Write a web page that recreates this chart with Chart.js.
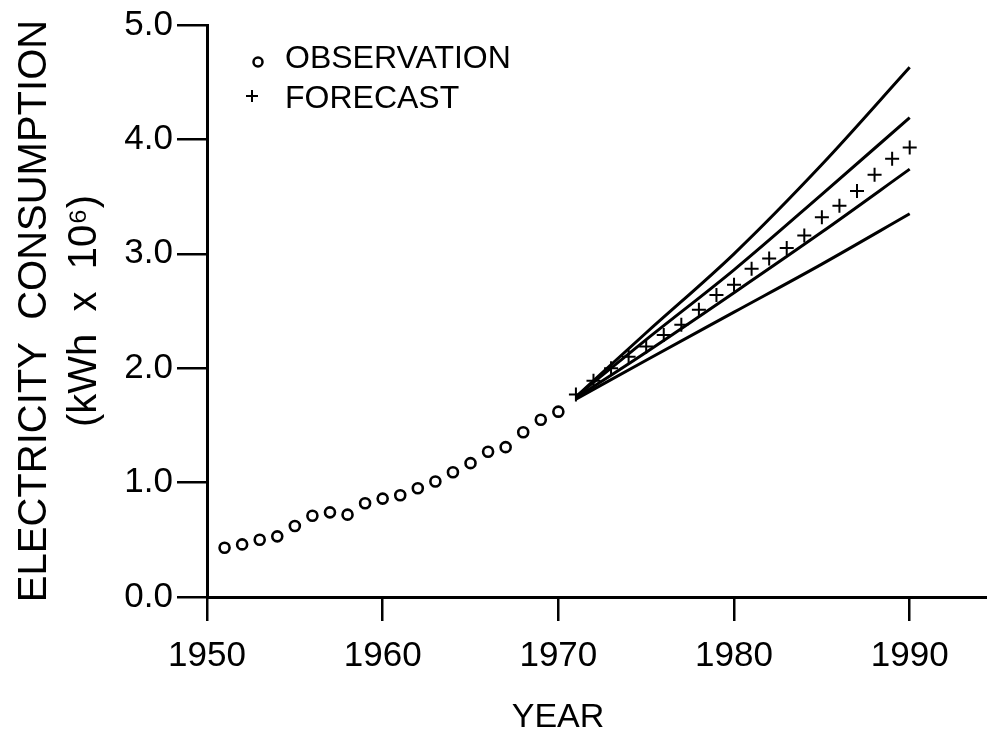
<!DOCTYPE html>
<html>
<head>
<meta charset="utf-8">
<script src="https://cdn.jsdelivr.net/npm/chart.js@4.4.1/dist/chart.umd.min.js"></script>
<style>
  html, body { margin:0; padding:0; background:#fff; }
</style>
</head>
<body>
<canvas id="myChart" width="987" height="730"></canvas>
<script>
// OBSERVED consumption, 1951-1970 (kWh x 10^6)
const obsYears  = [1951,1952,1953,1954,1955,1956,1957,1958,1959,1960,1961,1962,1963,1964,1965,1966,1967,1968,1969,1970];
const obsValues = [0.43,0.46,0.50,0.53,0.62,0.71,0.74,0.72,0.82,0.86,0.89,0.95,1.01,1.09,1.17,1.27,1.31,1.44,1.55,1.62];

// FORECAST, 1971-1990
const fcYears  = [1971,1972,1973,1974,1975,1976,1977,1978,1979,1980,1981,1982,1983,1984,1985,1986,1987,1988,1989,1990];
const fcValues = [1.77,1.89,2.00,2.10,2.19,2.29,2.38,2.51,2.64,2.73,2.87,2.96,3.05,3.16,3.32,3.42,3.55,3.69,3.83,3.93];

// the four limit curves round the forecast
const bandYears = [1971,1975,1980,1985,1990];
const outerHigh = [1.75,2.31,3.00,3.78,4.63];
const innerHigh = [1.75,2.25,2.86,3.52,4.19];
const innerLow  = [1.74,2.14,2.66,3.19,3.74];
const outerLow  = [1.73,2.07,2.49,2.91,3.35];

const xTicks = [1950,1960,1970,1980,1990];
const yTicks = [0,1,2,3,4,5];

const FONT = "'Liberation Sans', Arial, sans-serif";

function pts(xs, ys){ return xs.map((x,i) => ({x:x, y:ys[i]})); }

function bandLine(vals){
  return {
    label: '', data: pts(bandYears, vals), showLine: true,
    borderColor: '#000', borderWidth: 3, pointRadius: 0,
    cubicInterpolationMode: 'monotone', fill: false
  };
}

// legend + x title drawn by hand, the legend sits inside the plot
const legendPlugin = {
  id: 'handLegend',
  afterDraw(chart){
    const c = chart.ctx;
    const obs = chart.data.datasets[0], fc = chart.data.datasets[1];
    c.save();
    c.strokeStyle = '#000';
    c.fillStyle = '#fff';
    c.lineWidth = 2.5;
    Chart.helpers.drawPoint(c, {pointStyle:'circle', radius:4.5, borderWidth:2.5}, 258, 62);
    c.lineWidth = 2;
    Chart.helpers.drawPoint(c, {pointStyle:'cross', radius:6, borderWidth:2}, 252, 96);
    c.fillStyle = '#000';
    c.font = '32px ' + FONT;
    c.textBaseline = 'alphabetic';
    c.textAlign = 'left';
    c.fillText(obs.label, 285, 68);
    c.fillText(fc.label, 285, 108);
    // axis title YEAR
    c.font = '34px ' + FONT;
    c.textAlign = 'center';
    const xs = chart.scales.x;
    c.fillText('YEAR', xs.left + (xs.right - xs.left) * 0.45, 727);
    c.restore();
  }
};

const ctx = document.getElementById('myChart').getContext('2d');
const myChart = new Chart(ctx, {
  type: 'scatter',
  data: {
    datasets: [
      {
        label: 'OBSERVATION', data: pts(obsYears, obsValues),
        pointStyle: 'circle', pointRadius: 5, borderWidth: 2.6,
        borderColor: '#000', backgroundColor: '#fff'
      },
      {
        label: 'FORECAST', data: pts(fcYears, fcValues),
        pointStyle: 'cross', pointRadius: 7, borderWidth: 2,
        borderColor: '#000', backgroundColor: '#000'
      },
      bandLine(outerHigh),
      bandLine(innerHigh),
      bandLine(innerLow),
      bandLine(outerLow)
    ]
  },
  options: {
    responsive: false,
    animation: false,
    layout: { autoPadding: false, padding: { top: 25, right: 0, left: 0, bottom: 0 } },
    plugins: { legend: { display: false }, tooltip: { enabled: false } },
    scales: {
      x: {
        type: 'linear', min: 1950, max: 1994.4,
        afterBuildTicks: s => { s.ticks = xTicks.map(v => ({value: v})); },
        afterFit: s => { s.height = 133; s.paddingLeft = 0; s.paddingRight = 0; },
        ticks: { color: '#000', font: { family: FONT, size: 35 }, padding: 14, maxRotation: 0,
                 callback: v => String(v) },
        grid: { drawOnChartArea: false, drawTicks: true, tickLength: 24, color: '#000', lineWidth: 2.5 },
        border: { display: true, color: '#000', width: 3 },
        title: { display: false }
      },
      y: {
        min: 0, max: 5,
        afterBuildTicks: s => { s.ticks = yTicks.map(v => ({value: v})); },
        afterFit: s => { s.width = 207; s.paddingTop = 0; s.paddingBottom = 0; },
        ticks: { color: '#000', font: { family: FONT, size: 35 }, padding: 4,
                 callback: v => v.toFixed(1) },
        grid: { drawOnChartArea: false, drawTicks: true, tickLength: 30, color: '#000', lineWidth: 2.5 },
        border: { display: true, color: '#000', width: 3 },
        title: {
          display: true, color: '#000',
          text: ['ELECTRICITY  CONSUMPTION', '(kWh  x  10\u2076)'],
          font: { family: FONT, size: 40, lineHeight: 1.25 },
          padding: { top: 10, bottom: 0 }
        }
      }
    }
  },
  plugins: [legendPlugin]
});
</script>
</body>
</html>
